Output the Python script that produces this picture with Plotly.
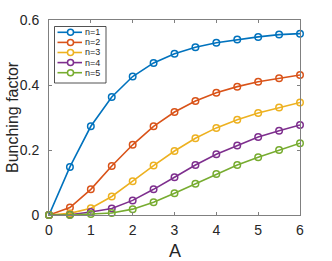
import plotly.graph_objects as go

A = [0, 0.5, 1, 1.5, 2, 2.5, 3, 3.5, 4, 4.5, 5, 5.5, 6]
b1 = [0, 0.148, 0.273, 0.363, 0.426, 0.468, 0.496, 0.516, 0.530, 0.540, 0.548, 0.555, 0.558]
b2 = [0, 0.023, 0.079, 0.151, 0.216, 0.273, 0.317, 0.351, 0.376, 0.395, 0.410, 0.421, 0.431]
b3 = [0, 0.005, 0.021, 0.057, 0.104, 0.152, 0.197, 0.236, 0.268, 0.293, 0.314, 0.331, 0.346]
b4 = [0, 0.001, 0.009, 0.020, 0.045, 0.079, 0.116, 0.154, 0.187, 0.214, 0.240, 0.259, 0.277]
b5 = [0, 0.000, 0.003, 0.006, 0.018, 0.039, 0.067, 0.096, 0.126, 0.154, 0.178, 0.200, 0.221]
names = ["n=1", "n=2", "n=3", "n=4", "n=5"]
series = [b1, b2, b3, b4, b5]
colors = ["#0072BD", "#D95319", "#EDB120", "#7E2F8E", "#77AC30"]
xticks = [0, 1, 2, 3, 4, 5, 6]
yticks = [0, 0.2, 0.4, 0.6]
x_title = "A"
y_title = "Bunching factor"

W_FIG, H_FIG = 332, 261
L, T, R, B = 49, 20, 300, 215
PW, PH = R - L, B - T

def px(x):
    return (x - L) / PW

def py(y):
    return 1 - (y - T) / PH

fig = go.Figure()
for nm, ys, c in zip(names, series, colors):
    fig.add_trace(go.Scatter(
        x=A, y=ys, name=nm, mode="lines+markers",
        line=dict(color=c, width=1.6),
        marker=dict(symbol="circle-open", size=6.5, color=c, line=dict(width=1.5, color=c)),
        showlegend=False, cliponaxis=False))

axis_col = "#262626"
narrow = "Liberation Sans Narrow, Liberation Sans, Arial, sans-serif"
axcommon = dict(showgrid=False, zeroline=False, showline=True, linecolor="#808080",
                linewidth=1, mirror="allticks", ticks="inside", ticklen=3,
                tickcolor="#808080", automargin=False,
                tickfont=dict(size=14, color=axis_col, family=narrow))
fig.update_xaxes(range=[0, 6], tickvals=xticks, ticktext=[str(v) for v in xticks],
                 ticklabelstandoff=2, **axcommon)
fig.update_yaxes(range=[0, 0.6], tickvals=yticks, ticktext=["0", "0.2", "0.4", "0.6"],
                 ticklabelstandoff=6, **axcommon)

annotations = [
    dict(xref="paper", yref="paper", x=px(12.5), y=0.5, text=y_title, textangle=-90,
         xanchor="center", yanchor="middle", showarrow=False,
         font=dict(size=16, color=axis_col)),
    dict(xref="paper", yref="paper", x=0.5, y=py(250.5), text=x_title,
         xanchor="center", yanchor="middle", showarrow=False,
         font=dict(size=18, color=axis_col, family=narrow)),
]

# legend box drawn as layout decoration
shapes = [dict(type="rect", xref="paper", yref="paper",
               x0=px(54.5), x1=px(106), y0=py(26.5), y1=py(83),
               line=dict(color="#262626", width=0.8), fillcolor="white", layer="above")]
for i, (nm, c) in enumerate(zip(names, colors)):
    yy = 32.3 + 10.1 * i
    shapes.append(dict(type="line", xref="paper", yref="paper",
                       x0=px(57.5), x1=px(82), y0=py(yy), y1=py(yy),
                       line=dict(color=c, width=1.6), layer="above"))
    shapes.append(dict(type="circle", xref="paper", yref="paper",
                       x0=px(67.5), x1=px(73.5), y0=py(yy - 3), y1=py(yy + 3),
                       line=dict(color=c, width=1.5), fillcolor="white", layer="above"))
    annotations.append(dict(xref="paper", yref="paper", x=px(82.8), y=py(yy),
                            xanchor="left", yanchor="middle", text=nm, showarrow=False,
                            font=dict(size=9, color=axis_col)))

fig.update_layout(width=W_FIG, height=H_FIG, margin=dict(l=L, r=W_FIG - R, t=T, b=H_FIG - B),
                  paper_bgcolor="white", plot_bgcolor="white",
                  font=dict(family="Liberation Sans, Arial, sans-serif"),
                  shapes=shapes, annotations=annotations)
fig.write_html("out.html", config={"displayModeBar": False},
               post_script="document.body.style.margin='0';document.body.style.overflow='hidden';")
